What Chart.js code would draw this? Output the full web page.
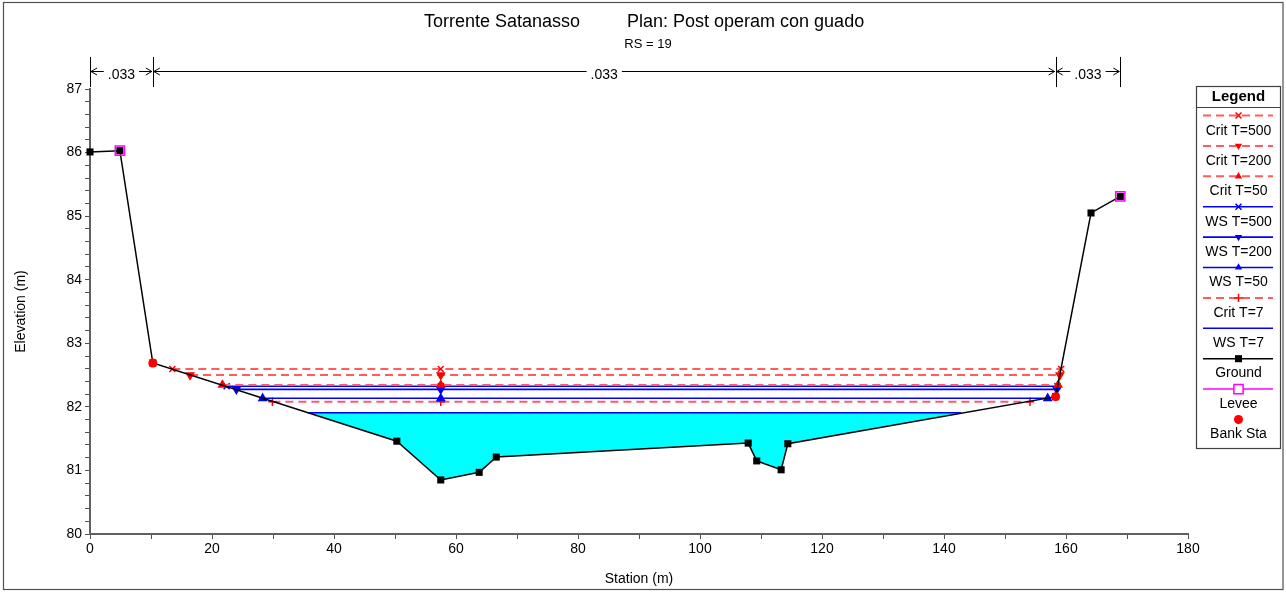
<!DOCTYPE html>
<html>
<head>
<meta charset="utf-8">
<script src="https://cdn.jsdelivr.net/npm/chart.js@4.4.1/dist/chart.umd.min.js"></script>
<style>
html,body{margin:0;padding:0;background:#ffffff;}
canvas{display:block;}
</style>
</head>
<body>
<canvas id="c" width="1286" height="592"></canvas>
<script>
// ---------------- DATA ----------------
const titleLeft = 'Torrente Satanasso';
const titleRight = 'Plan: Post operam con guado';
const subtitleText = 'RS = 19';

const groundStation = [0, 4.9, 10.3, 50.3, 57.5, 63.8, 66.6, 107.9, 109.3, 113.3, 114.4, 158.3, 164.1, 168.9];
const groundElev    = [86.01, 86.03, 82.69, 81.46, 80.85, 80.97, 81.21, 81.43, 81.15, 81.01, 81.42, 82.16, 85.05, 85.31];

const leveeStation = [4.9, 168.9];
const leveeElev    = [86.03, 85.31];

const bankStation = [10.3, 158.3];
const bankElev    = [82.69, 82.16];

const profileNames = ['Crit T=500', 'Crit T=200', 'Crit T=50', 'WS T=500', 'WS T=200', 'WS T=50', 'Crit T=7', 'WS T=7'];
const profileElev  = [82.595, 82.50, 82.345, 82.325, 82.275, 82.135, 82.08, 81.908];
const profileLeft  = [13.5, 16.4, 21.7, 22.4, 24.0, 28.3, 29.9, 35.7];
const profileRight = [159.2, 159.0, 158.7, 158.6, 158.5, 157.0, 154.1, 142.8];
const profileMid   = 57.5;

const nStations = [0, 10.3, 158.3, 168.9];
const nValues   = ['.033', '.033', '.033'];

const xMin = 0, xMax = 180, xStep = 10, xLabelEvery = 20;
const yMin = 80, yMax = 87, yStep = 0.2;

// ---------------- STYLES ----------------
const FONT = '"Liberation Sans", Arial, Helvetica, sans-serif';
const RED = '#ff0000', RED_LINE = '#ff5c5c', BLUE = '#0000ff';
const profileStyle = {
  'Crit T=500': {color: RED,  line: RED_LINE, dash: true,  marker: 'crossRot', rot: 0},
  'Crit T=200': {color: RED,  line: RED_LINE, dash: true,  marker: 'triangle', rot: 180},
  'Crit T=50':  {color: RED,  line: RED_LINE, dash: true,  marker: 'triangle', rot: 0},
  'WS T=500':   {color: BLUE, line: BLUE,     dash: false, marker: 'crossRot', rot: 0},
  'WS T=200':   {color: BLUE, line: BLUE,     dash: false, marker: 'triangle', rot: 180},
  'WS T=50':    {color: BLUE, line: BLUE,     dash: false, marker: 'triangle', rot: 0},
  'Crit T=7':   {color: RED,  line: RED_LINE, dash: true,  marker: 'cross',    rot: 0},
  'WS T=7':     {color: BLUE, line: BLUE,     dash: false, marker: null,       rot: 0}
};
const DASH = [8, 5];

// ---------------- DATASETS ----------------
const zip = (xs, ys) => xs.map((x, i) => ({x: x, y: ys[i]}));
const datasets = [];

// bank stations (top)
datasets.push({
  label: 'Bank Sta', data: zip(bankStation, bankElev), showLine: false,
  pointStyle: 'circle', pointRadius: 4.5, pointBackgroundColor: RED, pointBorderColor: RED, pointBorderWidth: 0,
  order: 0, clip: false
});
// levees
datasets.push({
  label: 'Levee', data: zip(leveeStation, leveeElev), showLine: false,
  pointStyle: 'rect', pointRadius: 6.5, pointBackgroundColor: 'rgba(0,0,0,0)', pointBorderColor: '#ff00ff', pointBorderWidth: 1.5,
  order: 1, clip: false
});
// profiles
profileNames.forEach((name, i) => {
  const st = profileStyle[name];
  const el = profileElev[i];
  datasets.push({
    label: name,
    data: [{x: profileLeft[i], y: el}, {x: profileMid, y: el}, {x: profileRight[i], y: el}],
    showLine: true, borderColor: st.line, borderWidth: st.dash ? 2 : 1.6, borderDash: st.dash ? DASH : [],
    pointStyle: st.marker || 'circle', pointRadius: st.marker ? 4.2 : 0, pointRotation: st.rot,
    pointBackgroundColor: st.color, pointBorderColor: st.color, pointBorderWidth: 1.5,
    fill: false, order: 10 + i, clip: false
  });
});
// ground
datasets.push({
  label: 'Ground', data: zip(groundStation, groundElev), showLine: true,
  borderColor: '#000000', borderWidth: 1.5,
  pointStyle: 'rect', pointRadius: 5, pointBackgroundColor: '#000000', pointBorderColor: '#000000', pointBorderWidth: 0,
  fill: false, order: 5, clip: false
});
// water area of WS T=7: ground between its edges, filled up to its surface
const iW = profileNames.indexOf('WS T=7');
const wEl = profileElev[iW], wL = profileLeft[iW], wR = profileRight[iW];
const waterData = [{x: wL, y: wEl}]
  .concat(zip(groundStation, groundElev).filter(p => p.x > wL && p.x < wR))
  .concat([{x: wR, y: wEl}]);
datasets.push({
  label: 'water', data: waterData, showLine: true,
  borderWidth: 0, borderColor: 'rgba(0,0,0,0)', pointRadius: 0,
  backgroundColor: '#00ffff', fill: {value: wEl},
  order: 50, clip: false
});

// ---------------- PLUGINS ----------------
function drawMarker(ctx, style, x, y, r, color, rot, hollow) {
  ctx.save();
  ctx.translate(x, y);
  ctx.rotate((rot || 0) * Math.PI / 180);
  ctx.strokeStyle = color; ctx.fillStyle = color; ctx.lineWidth = 1.5; ctx.setLineDash([]);
  ctx.beginPath();
  if (style === 'crossRot') {
    const d = r * Math.SQRT1_2;
    ctx.moveTo(-d, -d); ctx.lineTo(d, d); ctx.moveTo(-d, d); ctx.lineTo(d, -d); ctx.stroke();
  } else if (style === 'cross') {
    ctx.moveTo(-r, 0); ctx.lineTo(r, 0); ctx.moveTo(0, -r); ctx.lineTo(0, r); ctx.stroke();
  } else if (style === 'triangle') {
    for (let k = 0; k < 3; k++) {
      const a = k * 2 * Math.PI / 3;
      const px = Math.sin(a) * r, py = -Math.cos(a) * r;
      if (k === 0) ctx.moveTo(px, py); else ctx.lineTo(px, py);
    }
    ctx.closePath(); ctx.fill();
  } else if (style === 'rect') {
    const s = r * Math.SQRT1_2;
    ctx.rect(-s, -s, 2 * s, 2 * s);
    if (hollow) ctx.stroke(); else ctx.fill();
  } else if (style === 'circle') {
    ctx.arc(0, 0, r, 0, Math.PI * 2); ctx.fill();
  }
  ctx.restore();
}

const decorPlugin = {
  id: 'decor',
  afterDraw(chart) {
    const ctx = chart.ctx;
    const xs = chart.scales.x;
    ctx.save();
    // frame
    ctx.strokeStyle = '#505050'; ctx.lineWidth = 1.2;
    ctx.strokeRect(3.5, 2.5, 1279.5, 587);

    // titles
    ctx.fillStyle = '#000'; ctx.textBaseline = 'middle';
    ctx.font = '18px ' + FONT; ctx.textAlign = 'left';
    ctx.fillText(titleLeft, 424, 22);
    ctx.fillText(titleRight, 627, 22);
    ctx.font = '13px ' + FONT; ctx.textAlign = 'center';
    ctx.fillText(subtitleText, 648, 44);

    // Manning's n annotation
    const yLine = 71.5, yTop = 57, yBot = 87;
    ctx.strokeStyle = '#000'; ctx.lineWidth = 1;
    ctx.font = '14px ' + FONT; ctx.textAlign = 'center'; ctx.textBaseline = 'alphabetic';
    nStations.forEach(s => {
      const px = Math.round(xs.getPixelForValue(s)) + 0.5;
      ctx.beginPath(); ctx.moveTo(px, yTop); ctx.lineTo(px, yBot); ctx.stroke();
    });
    for (let i = 0; i < nValues.length; i++) {
      const a = xs.getPixelForValue(nStations[i]) + 1;
      const b = xs.getPixelForValue(nStations[i + 1]) - 1;
      const mid = (a + b) / 2;
      const tw = ctx.measureText(nValues[i]).width;
      ctx.fillText(nValues[i], mid, 79);
      ctx.beginPath();
      ctx.moveTo(a, yLine); ctx.lineTo(mid - tw / 2 - 4, yLine);
      ctx.moveTo(mid + tw / 2 + 4, yLine); ctx.lineTo(b, yLine);
      ctx.moveTo(a + 6, yLine - 3.5); ctx.lineTo(a, yLine); ctx.lineTo(a + 6, yLine + 3.5);
      ctx.moveTo(b - 6, yLine - 3.5); ctx.lineTo(b, yLine); ctx.lineTo(b - 6, yLine + 3.5);
      ctx.stroke();
    }

    // legend
    const L = 1196.5, R = 1280.5, T = 86.5, B = 448.5, cx = (L + R) / 2;
    ctx.strokeStyle = '#404040'; ctx.lineWidth = 1.2;
    ctx.strokeRect(L, T, R - L, B - T);
    ctx.beginPath(); ctx.moveTo(L, 107.5); ctx.lineTo(R, 107.5); ctx.stroke();
    ctx.fillStyle = '#000'; ctx.textAlign = 'center'; ctx.textBaseline = 'middle';
    ctx.font = 'bold 15px ' + FONT;
    ctx.fillText('Legend', cx, 97);
    ctx.font = '14px ' + FONT;
    const items = profileNames.map(n => ({label: n, st: profileStyle[n], kind: 'profile'}))
      .concat([{label: 'Ground', kind: 'ground'}, {label: 'Levee', kind: 'levee'}, {label: 'Bank Sta', kind: 'bank'}]);
    const x1 = 1203, x2 = 1273;
    items.forEach((it, k) => {
      const ly = 115.5 + k * 30.4;
      const ty = 131 + k * 30.3;
      ctx.save();
      if (it.kind === 'profile') {
        ctx.strokeStyle = it.st.line; ctx.lineWidth = it.st.dash ? 2 : 1.6;
        ctx.setLineDash(it.st.dash ? DASH : []);
        ctx.beginPath(); ctx.moveTo(x1, ly); ctx.lineTo(x2, ly); ctx.stroke();
        if (it.st.marker) drawMarker(ctx, it.st.marker, cx, ly, 4.2, it.st.color, it.st.rot);
      } else if (it.kind === 'ground') {
        ctx.strokeStyle = '#000'; ctx.lineWidth = 1.5;
        ctx.beginPath(); ctx.moveTo(x1, ly); ctx.lineTo(x2, ly); ctx.stroke();
        drawMarker(ctx, 'rect', cx, ly, 5, '#000', 0);
      } else if (it.kind === 'levee') {
        ctx.strokeStyle = '#ff00ff'; ctx.lineWidth = 1.5;
        ctx.beginPath(); ctx.moveTo(x1, ly); ctx.lineTo(x2, ly); ctx.stroke();
        ctx.fillStyle = '#fff';
        ctx.fillRect(cx - 4.6, ly - 4.6, 9.2, 9.2);
        drawMarker(ctx, 'rect', cx, ly, 6.5, '#ff00ff', 0, true);
      } else {
        drawMarker(ctx, 'circle', cx, ly, 4.5, RED, 0);
      }
      ctx.restore();
      ctx.fillStyle = '#000';
      ctx.fillText(it.label, cx, ty);
    });
    ctx.restore();
  }
};

// ---------------- CHART ----------------
const isMult = (v, m) => Math.abs(v / m - Math.round(v / m)) < 1e-6;

new Chart(document.getElementById('c'), {
  type: 'scatter',
  data: {datasets: datasets},
  plugins: [decorPlugin],
  options: {
    responsive: false, animation: false, events: [],
    layout: {padding: {top: 89, right: 98, bottom: 0, left: 0}},
    plugins: {
      legend: {display: false}, tooltip: {enabled: false}, title: {display: false},
      filler: {drawTime: 'beforeDatasetsDraw'}
    },
    scales: {
      x: {
        type: 'linear', min: xMin, max: xMax,
        ticks: {stepSize: xStep, autoSkip: false, maxRotation: 0, padding: 2, color: '#000',
          font: {size: 14, family: FONT},
          callback: (v) => isMult(v, xLabelEvery) ? String(Math.round(v)) : ''},
        grid: {display: true, drawOnChartArea: false, drawTicks: true, tickLength: 5, color: '#505050', lineWidth: 1},
        border: {display: true, color: '#606060', width: 2},
        title: {display: true, text: 'Station (m)', color: '#000', font: {size: 14, family: FONT}, padding: {top: 0, bottom: 4}},
        afterFit: (s) => { s.height = 58; }
      },
      y: {
        type: 'linear', min: yMin, max: yMax,
        ticks: {stepSize: yStep, autoSkip: false, padding: 3, color: '#000',
          font: {size: 14, family: FONT},
          callback: (v) => isMult(v, 1) ? String(Math.round(v)) : ''},
        grid: {display: true, drawOnChartArea: false, drawTicks: true, tickLength: 5, color: '#505050', lineWidth: 1},
        border: {display: true, color: '#606060', width: 2},
        title: {display: true, text: 'Elevation (m)', color: '#000', font: {size: 14, family: FONT}, padding: {top: 13, bottom: 0}},
        afterFit: (s) => { s.width = 90; }
      }
    }
  }
});
</script>
</body>
</html>
